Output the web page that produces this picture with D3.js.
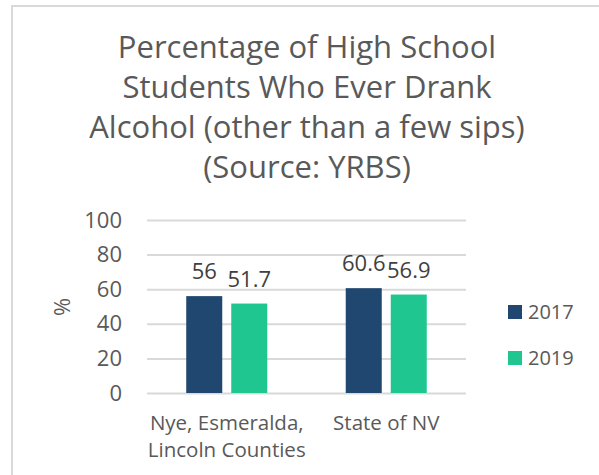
<!DOCTYPE html>
<html>
<head>
<meta charset="utf-8">
<script src="https://cdn.jsdelivr.net/npm/d3@7"></script>
<style>
  body { margin: 0; background: #fff; }
  svg { display: block; font-family: "Open Sans", sans-serif; }
</style>
</head>
<body>
<div id="chart"></div>
<script>
var titleLines = ["Percentage of High School", "Students Who Ever Drank", "Alcohol (other than a few sips)", "(Source: YRBS)"];
var categories = [["Nye, Esmeralda,", "Lincoln Counties"], ["State of NV"]];
var categoryKeys = ["Nye", "NV"];
var years = ["2017", "2019"];
var values2017 = [56, 60.6];
var values2019 = [51.7, 56.9];
var yTicks = [0, 20, 40, 60, 80, 100];
var colors = ["#1f4770", "#1fc690"];

var textColor = "#595959";
var W = 599, H = 475;

var svg = d3.select("#chart").append("svg")
  .attr("width", W)
  .attr("height", H);

svg.append("rect")
  .attr("x", 12).attr("y", 6)
  .attr("width", W + 10).attr("height", H + 10)
  .attr("fill", "#fff")
  .attr("stroke", "#d9d9d9")
  .attr("stroke-width", 2);

// title
svg.append("g").selectAll("text")
  .data(titleLines)
  .enter().append("text")
  .attr("x", 307)
  .attr("y", function (d, i) { return 58 + i * 40; })
  .attr("text-anchor", "middle")
  .attr("fill", textColor)
  .style("font-size", "31px")
  .text(function (d) { return d; });

var plot = { left: 147, right: 466, top: 220, bottom: 393 };

var x0 = d3.scaleBand()
  .domain(categoryKeys)
  .range([plot.left, plot.right])
  .paddingInner(0.492)
  .paddingOuter(0.246);

var x1 = d3.scaleBand()
  .domain(years)
  .range([0, x0.bandwidth()])
  .paddingInner(0.2);

var y = d3.scaleLinear().domain([0, 100]).range([plot.bottom, plot.top]);

// gridlines
svg.append("g")
  .attr("class", "grid")
  .attr("transform", "translate(" + plot.left + ",0)")
  .call(d3.axisLeft(y).tickValues(yTicks).tickSize(-(plot.right - plot.left)).tickFormat(""))
  .call(function (g) {
    g.select(".domain").remove();
    g.selectAll("line").attr("stroke", "#d9d9d9").attr("stroke-width", 2);
  });

// y axis labels
svg.append("g")
  .attr("transform", "translate(" + plot.left + ",0)")
  .call(d3.axisLeft(y).tickValues(yTicks).tickSize(0).tickPadding(25))
  .call(function (g) {
    g.select(".domain").remove();
    g.selectAll("text")
      .attr("fill", textColor)
      .style("font-size", "22px")
      .style("font-family", "'Open Sans', sans-serif");
  });

svg.append("text")
  .attr("transform", "translate(70,307) rotate(-90)")
  .attr("text-anchor", "middle")
  .attr("fill", textColor)
  .style("font-size", "22px")
  .text("%");

var rows = categoryKeys.map(function (k, i) {
  return { key: k, values: [values2017[i], values2019[i]] };
});

var groups = svg.selectAll("g.cat")
  .data(rows)
  .enter().append("g")
  .attr("class", "cat")
  .attr("transform", function (d) { return "translate(" + x0(d.key) + ",0)"; });

groups.selectAll("rect")
  .data(function (d) { return d.values.map(function (v, j) { return { year: years[j], value: v, idx: j }; }); })
  .enter().append("rect")
  .attr("x", function (d) { return x1(d.year); })
  .attr("y", function (d) { return y(d.value); })
  .attr("width", x1.bandwidth())
  .attr("height", function (d) { return y(0) - y(d.value); })
  .attr("fill", function (d) { return colors[d.idx]; });

groups.selectAll("text.val")
  .data(function (d) { return d.values.map(function (v, j) { return { year: years[j], value: v }; }); })
  .enter().append("text")
  .attr("class", "val")
  .attr("x", function (d) { return x1(d.year) + x1.bandwidth() / 2; })
  .attr("y", function (d) { return y(d.value) - 17; })
  .attr("text-anchor", "middle")
  .attr("fill", "#404040")
  .style("font-size", "22px")
  .text(function (d) { return d.value; });

// category labels
var catLabels = svg.append("g").selectAll("text")
  .data(categories)
  .enter().append("text")
  .attr("x", function (d, i) { return x0(categoryKeys[i]) + x0.bandwidth() / 2; })
  .attr("y", 430)
  .attr("text-anchor", "middle")
  .attr("fill", textColor)
  .style("font-size", "20.5px");

catLabels.selectAll("tspan")
  .data(function (d) { return d; })
  .enter().append("tspan")
  .attr("x", function () { return d3.select(this.parentNode).attr("x"); })
  .attr("dy", function (d, i) { return i === 0 ? 0 : 27; })
  .text(function (d) { return d; });

// legend
var legend = svg.append("g").selectAll("g")
  .data(years)
  .enter().append("g")
  .attr("transform", function (d, i) { return "translate(508," + (305 + i * 46) + ")"; });

legend.append("rect")
  .attr("width", 14).attr("height", 14)
  .attr("fill", function (d, i) { return colors[i]; });

legend.append("text")
  .attr("x", 20).attr("y", 7)
  .attr("dy", "0.35em")
  .attr("fill", textColor)
  .style("font-size", "20px")
  .text(function (d) { return d; });
</script>
</body>
</html>
